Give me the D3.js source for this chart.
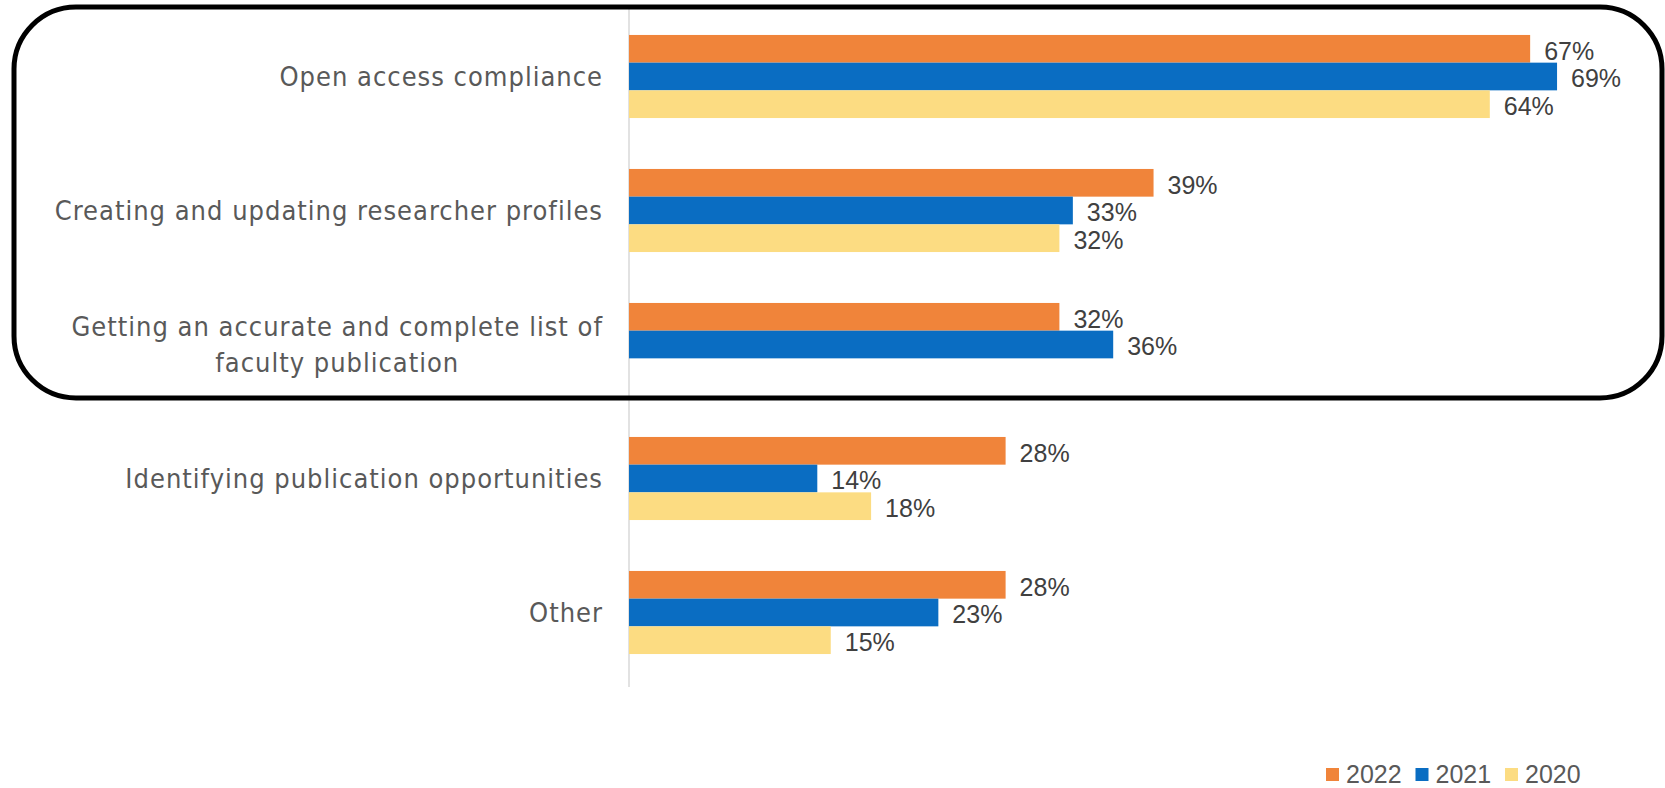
<!DOCTYPE html>
<html>
<head>
    <meta charset="utf-8">
    <title>Research support priorities</title>
    <script type="text/javascript" src="https://d3js.org/d3.v7.min.js"></script>
    <style>
        body { margin: 0; background: white; }
        .canvas { display: block; background-color: white; }
        .cat { font-family: "DejaVu Sans Condensed", "DejaVu Sans", sans-serif; font-size: 27px; letter-spacing: 1px; fill: #595959; }
        .val { font-family: "Liberation Sans Narrow", sans-serif; font-size: 25px; fill: #404040; }
        .leg { font-family: "Liberation Sans Narrow", sans-serif; font-size: 25px; fill: #595959; }
    </style>
</head>
<body>
    <svg class="canvas" width="1665" height="788"></svg>
    <script type="text/javascript">
        // categories, top to bottom (third label wraps onto two lines)
        var categories = [
            "Open access compliance",
            "Creating and updating researcher profiles",
            "Getting an accurate and complete list of|faculty publication",
            "Identifying publication opportunities",
            "Other"
        ];
        var years = ["2022", "2021", "2020"];
        var values2022 = [67, 39, 32, 28, 28];
        var values2021 = [69, 33, 36, 14, 23];
        var values2020 = [64, 32, null, 18, 15];
        var colors = ["#f0843a", "#0a6dc2", "#fcdc82"];

        var series = [values2022, values2021, values2020];

        var svg = d3.select('.canvas');

        var x = d3.scaleLinear().domain([0, 70]).range([629, 629 + 70 * 13.45]);
        var y0 = d3.scaleBand().domain(categories).range([9.5, 679.5])
            .paddingInner(0.38).paddingOuter(0.19);
        var y1 = d3.scaleBand().domain(years).range([0, y0.bandwidth()]);
        var color = d3.scaleOrdinal().domain(years).range(colors);

        // flatten to one record per bar
        var bars = [];
        categories.forEach(function(c, i) {
            years.forEach(function(yr, j) {
                if (series[j][i] != null) bars.push({cat: c, year: yr, v: series[j][i]});
            });
        });

        // vertical axis line
        svg.append('line')
            .attr('x1', x(0)).attr('x2', x(0))
            .attr('y1', 8).attr('y2', 687)
            .attr('stroke', '#d9d9d9').attr('stroke-width', 1.5);

        svg.selectAll('.bar')
            .data(bars)
            .enter()
            .append('rect')
            .attr('class', 'bar')
            .attr('x', x(0))
            .attr('y', function(d) { return y0(d.cat) + y1(d.year); })
            .attr('width', function(d) { return x(d.v) - x(0); })
            .attr('height', y1.bandwidth())
            .style('fill', function(d) { return color(d.year); });

        svg.selectAll('.val')
            .data(bars)
            .enter()
            .append('text')
            .attr('class', 'val')
            .attr('x', function(d) { return x(d.v) + 14; })
            .attr('y', function(d) { return y0(d.cat) + y1(d.year) + y1.bandwidth() / 2 + 2; })
            .attr('dy', '0.35em')
            .text(function(d) { return d.v + '%'; });

        // category labels, right aligned against the axis
        var labelX = 603;
        var labels = svg.selectAll('.cat')
            .data(categories)
            .enter()
            .append('text')
            .attr('class', 'cat')
            .attr('text-anchor', 'end')
            .attr('x', labelX)
            .attr('y', function(d) { return y0(d) + y0.bandwidth() / 2; });

        labels.each(function(d) {
            var lines = d.split('|');
            var t = d3.select(this);
            var first = t.append('tspan')
                .attr('x', labelX)
                .attr('dy', (0.35 - (lines.length - 1) * 0.65) + 'em')
                .text(lines[0]);
            if (lines.length > 1) {
                // second line centred under the first
                var w = first.node().getComputedTextLength();
                t.append('tspan')
                    .attr('x', labelX - w / 2)
                    .attr('text-anchor', 'middle')
                    .attr('dy', '1.3em')
                    .text(lines[1]);
            }
        });

        // legend
        var legendX = d3.scalePoint().domain(years).range([1326, 1505]);
        var leg = svg.selectAll('.legitem')
            .data(years)
            .enter()
            .append('g')
            .attr('transform', function(d) { return 'translate(' + legendX(d) + ',774)'; });
        leg.append('rect')
            .attr('x', 0).attr('y', -6)
            .attr('width', 13).attr('height', 13)
            .style('fill', function(d) { return color(d); });
        leg.append('text')
            .attr('class', 'leg')
            .attr('x', 20)
            .attr('dy', '0.35em')
            .text(function(d) { return d; });

        // highlight box round the first three items
        svg.append('rect')
            .attr('x', 14).attr('y', 7)
            .attr('width', 1648).attr('height', 391)
            .attr('rx', 62).attr('ry', 62)
            .attr('fill', 'none')
            .attr('stroke', '#000')
            .attr('stroke-width', 5);
    </script>
</body>
</html>
